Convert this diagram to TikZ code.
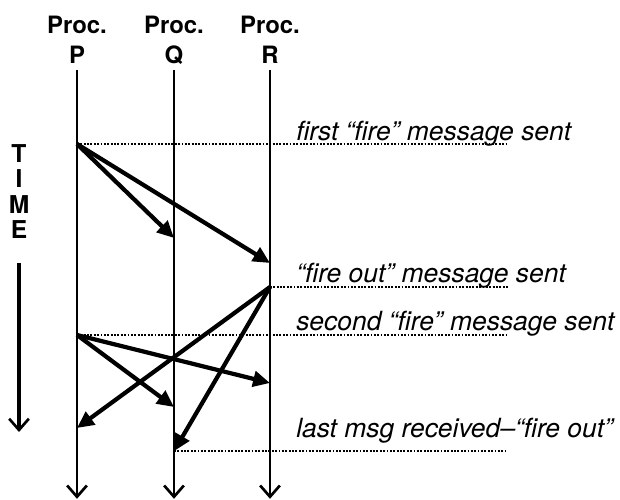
\documentclass[tikz,border=0pt]{standalone}
\usepackage{fontspec}
\setmainfont{TeX Gyre Heros}
\usetikzlibrary{arrows.meta}

\begin{document}
\begin{tikzpicture}
    % Define styles
    \tikzset{
        proc/.style={font=\fontsize{17}{21.3}\selectfont\bfseries, align=center, inner sep=0pt},
        event/.style={font=\fontsize{18.8}{21}\selectfont\itshape, anchor=base west, inner sep=0pt},
        lifeline/.style={line width=1.9pt, -{Straight Barb[length=8pt,width=14pt,line width=1.9pt]}},
        msg/.style={line width=3pt, -{Triangle[length=12pt,width=11pt]}},
        dotline/.style={line width=1.3pt, dash pattern=on 1.3pt off 1.1pt}
    }
    \useasboundingbox (0,0) rectangle (15.5,-12.5);

    % Process headers
    \node[proc] (procP) at (1.925,-1.0) {Proc.\\P};
    \node[proc] (procQ) at (4.35,-1.0) {Proc.\\Q};
    \node[proc] (procR) at (6.75,-1.0) {Proc.\\R};
    \node[proc, font=\fontsize{17.5}{18.2}\selectfont\bfseries] (time) at (0.475,-4.79) {T\\I\\M\\E};

    % Lifelines
    \coordinate (topP) at (1.925,-1.75);
    \coordinate (topQ) at (4.35,-1.75);
    \coordinate (topR) at (6.75,-1.75);
    \coordinate (endP) at (1.925,-12.47);
    \coordinate (endQ) at (4.35,-12.47);
    \coordinate (endR) at (6.75,-12.47);
    \coordinate (timetop) at (0.475,-6.575);
    \coordinate (timeend) at (0.475,-10.8);
    \draw[lifeline] (topP) -- (endP);
    \draw[lifeline] (topQ) -- (endQ);
    \draw[lifeline] (topR) -- (endR);
    \draw[lifeline, line width=2.4pt] (timetop) -- (timeend);

    % Events
    \coordinate (fireP) at (1.925,-3.6);
    \coordinate (fireQ) at (4.35,-5.95);
    \coordinate (fireR) at (6.75,-6.575);
    \coordinate (outR) at (6.75,-7.175);
    \coordinate (againP) at (1.925,-8.375);
    \coordinate (againR) at (6.75,-9.575);
    \coordinate (againQ) at (4.35,-10.175);
    \coordinate (outP) at (1.925,-10.7);
    \coordinate (outQ) at (4.35,-11.28);

    % Dotted time marks and labels
    \node[event] (first) at (7.4,-3.5) {first “fire” message sent};
    \node[event] (fireout) at (7.4,-7.05) {“fire out” message sent};
    \node[event] (second) at (7.4,-8.25) {second “fire” message sent};
    \node[event] (last) at (7.4,-10.925) {last msg received–“fire out”};
    \draw[dotline] (fireP) -- (12.7,-3.6);
    \draw[dotline] (outR) -- (12.7,-7.175);
    \draw[dotline] (againP) -- (12.7,-8.375);
    \draw[dotline] (outQ) -- (12.7,-11.28);

    % Messages
    \draw[msg] (fireP) -- (fireQ);
    \draw[msg] (fireP) -- (fireR);
    \draw[msg] (outR) -- (outP);
    \draw[msg] (outR) -- (outQ);
    \draw[msg] (againP) -- (againQ);
    \draw[msg] (againP) -- (againR);
\end{tikzpicture}
\end{document}
